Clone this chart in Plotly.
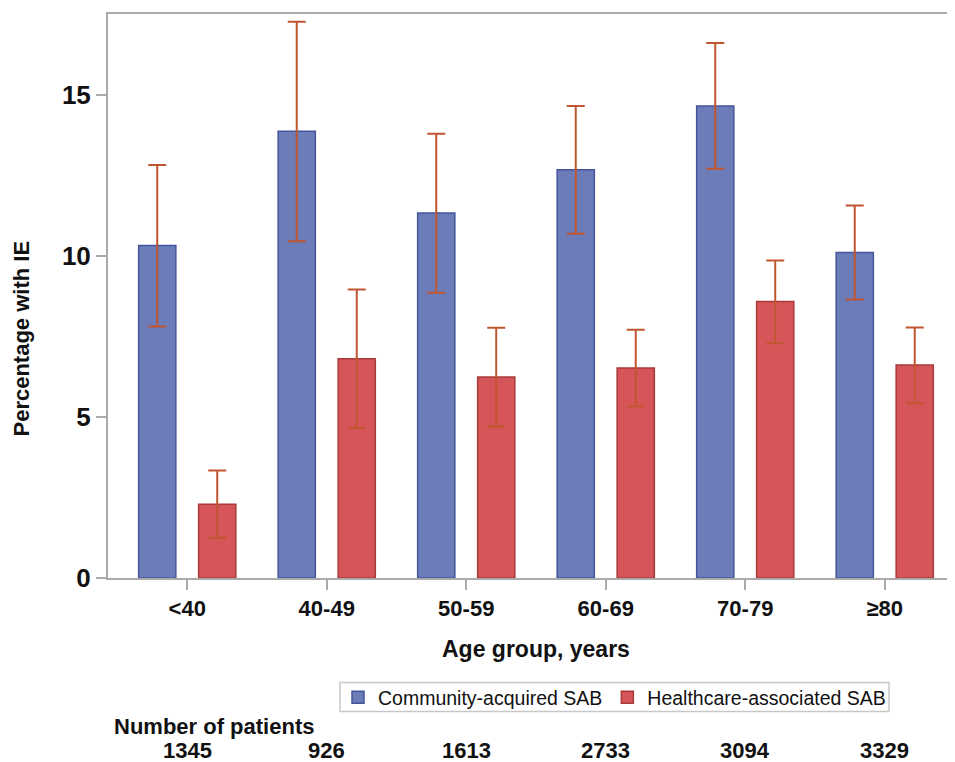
import plotly.graph_objects as go

age_groups = ["<40", "40-49", "50-59", "60-69", "70-79", "≥80"]
n_patients = ["1345", "926", "1613", "2733", "3094", "3329"]

ca_value = [10.33, 13.88, 11.34, 12.68, 14.66, 10.11]
ca_upper = [12.83, 17.28, 13.80, 14.66, 16.62, 11.57]
ca_lower = [7.81, 10.46, 8.86, 10.69, 12.71, 8.65]

ha_value = [2.29, 6.81, 6.24, 6.52, 8.59, 6.62]
ha_upper = [3.34, 8.96, 7.77, 7.71, 9.86, 7.78]
ha_lower = [1.25, 4.65, 4.71, 5.33, 7.29, 5.43]

y_ticks = [0, 5, 10, 15]

FONT = "Liberation Sans"
TXT = "#111111"
err_color = "#c0552f"


def err(vals, up, lo):
    return dict(type="data", symmetric=False,
                array=[u - v for u, v in zip(up, vals)],
                arrayminus=[v - l for v, l in zip(vals, lo)],
                color=err_color, thickness=2, width=9)


def bold(size):
    return dict(family=FONT, size=size, color=TXT, weight="bold")


fig = go.Figure()
fig.add_trace(go.Bar(
    x=age_groups, y=ca_value, name="Community-acquired SAB",
    marker=dict(color="#6b7cb8", line=dict(color="#45559c", width=1.5)),
    error_y=err(ca_value, ca_upper, ca_lower),
))
fig.add_trace(go.Bar(
    x=age_groups, y=ha_value, name="Healthcare-associated SAB",
    marker=dict(color="#d65558", line=dict(color="#a93a3a", width=1.5)),
    error_y=err(ha_value, ha_upper, ha_lower),
))

annotations = []
for g, n in zip(age_groups, n_patients):
    annotations.append(dict(x=g, xref="x", y=-0.305, yref="paper", text=n,
                            showarrow=False, xanchor="center", yanchor="middle",
                            font=bold(22)))
annotations.append(dict(x=0.0043, xref="paper", y=-0.263, yref="paper",
                        text="Number of patients", showarrow=False,
                        xanchor="left", yanchor="middle", font=bold(22)))
annotations.append(dict(x=0.5006, xref="paper", y=-0.125, yref="paper",
                        text="Age group, years", showarrow=False,
                        xanchor="center", yanchor="middle", font=bold(23)))
annotations.append(dict(x=-0.1006, xref="paper", y=0.4246, yref="paper",
                        text="Percentage with IE", showarrow=False,
                        textangle=-90, xanchor="center", yanchor="middle",
                        font=bold(22)))

# legend frame (pixel positions of reference converted to paper units)
shapes = [dict(type="rect", xref="paper", yref="paper",
               x0=(340 - 108) / 855, x1=(889 - 108) / 855,
               y0=(577.5 - 711) / 564, y1=(577.5 - 682) / 564,
               line=dict(color="#c8c8c8", width=1.5), fillcolor="rgba(0,0,0,0)")]

fig.update_layout(
    width=955, height=762,
    margin=dict(l=100, r=0, t=6, b=192),
    paper_bgcolor="white", plot_bgcolor="white",
    barmode="group", bargap=0.14, bargroupgap=0.38,
    showlegend=True,
    legend=dict(orientation="h", x=(338 - 108) / 855, xanchor="left",
                y=(577.5 - 697) / 564, yanchor="middle",
                borderwidth=0, bgcolor="rgba(0,0,0,0)",
                font=dict(family=FONT, size=19.5, color=TXT),
                itemwidth=30, tracegroupgap=0),
    xaxis=dict(range=[-0.568, 5.561], showline=True, linecolor="#aaaaaa", linewidth=2,
               mirror=True, ticks="outside", ticklen=10, tickcolor="#aaaaaa", tickwidth=2,
               tickfont=bold(22),
               showgrid=False, zeroline=False, fixedrange=True),
    yaxis=dict(range=[0, 17.52], tickvals=y_ticks, showline=True, linecolor="#aaaaaa",
               linewidth=2, ticks="outside", ticklen=10, tickcolor="#aaaaaa", tickwidth=2,
               tickfont=bold(26),
               showgrid=False, zeroline=False, fixedrange=True),
    annotations=annotations,
    shapes=shapes,
)

fig.write_html("out.html")
